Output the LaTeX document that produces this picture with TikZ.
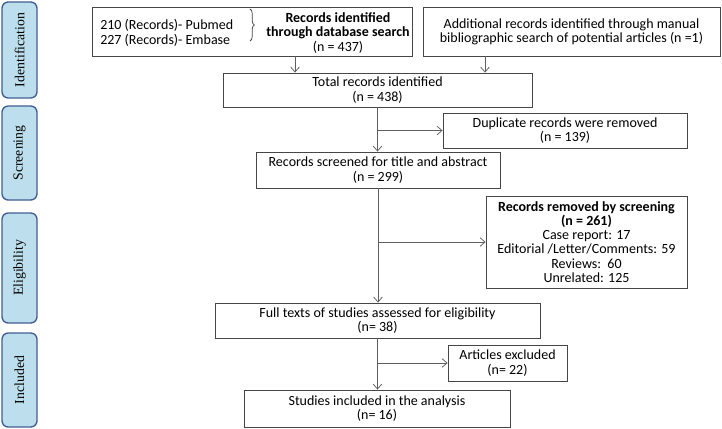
\documentclass[tikz,border=0pt]{standalone}
\usepackage{fontspec}
\setmainfont{Carlito}
\newfontfamily\sidefont{Liberation Serif}
\usetikzlibrary{arrows.meta,decorations.pathreplacing}
\definecolor{sidefill}{RGB}{189,222,236}
\definecolor{sideline}{RGB}{66,96,146}
\definecolor{boxline}{RGB}{70,70,70}
\definecolor{arrline}{RGB}{95,95,95}
\newcommand{\unitpx}{0.8pt}
\tikzset{
  flowbox/.style 2 args={draw=boxline, line width=0.7pt, minimum width=#1*\unitpx,
    minimum height=#2*\unitpx, inner sep=0pt, align=center, font=\fontsize{11.2}{11.4}\selectfont},
  flowtext/.style={inner sep=0pt, font=\fontsize{11.2}{11.8}\selectfont},
  sidebox/.style={draw=sideline, fill=sidefill, line width=1.1pt, rounded corners=5pt,
    rotate=90, minimum width=#1*\unitpx, minimum height=35*\unitpx, inner sep=0pt,
    font=\sidefont\fontsize{11}{13}\selectfont},
  arr/.style={draw=arrline, line width=0.6pt, -{Straight Barb[length=4pt,width=7pt]}}
}

\begin{document}
\begin{tikzpicture}[x=0.8pt, y=-0.8pt]
  \path[use as bounding box, fill=white] (0,0) rectangle (722,428);
  % phases on the left
  \node[sidebox=96] (idphase) at (19.5,50) {Identification};
  \node[sidebox=94] (scrphase) at (19.5,153) {Screening};
  \node[sidebox=110] (eligphase) at (19.5,268) {Eligibility};
  \node[sidebox=94] (incphase) at (19.5,380) {Included};
  % identification
  \node[flowbox={320}{49}] (db) at (252,31.5) {};
  \node[flowtext, anchor=west, align=left] (dbsrc) at (100,32.5) {210 (Records)- Pubmed\\227 (Records)- Embase};
  \node[flowtext, align=center] (dbsum) at (338,33)
    {\textbf{Records identified}\\\textbf{through database search}\\(n = 437)};
  \draw[decorate, decoration={brace,amplitude=3.5pt}, boxline, line width=0.6pt] (250,9) -- (250,41);
  \node[flowbox={297}{49}] (add) at (571.5,31.5)
    {Additional records identified through manual\\bibliographic search of potential articles (n =1)};
  \node[flowbox={309}{34}] (total) at (377.5,90) {Total records identified\\(n = 438)};
  % screening
  \node[flowbox={244}{35}] (dup) at (565,130.5) {Duplicate records were removed\\(n = 139)};
  \node[flowbox={244}{36}] (screen) at (378,170) {Records screened for title and abstract\\(n = 299)};
  % eligibility
  \node[flowbox={201}{92}] (removed) at (586.5,242)
    {\textbf{Records removed by screening}\\\textbf{(n = 261)}\\Case report: 17\\Editorial /Letter/Comments: 59\\Reviews:\ \ 60\\Unrelated: 125};
  \node[flowbox={325}{35}] (full) at (377.5,320.5) {Full texts of studies assessed for eligibility\\(n= 38)};
  % included
  \node[flowbox={119}{36}] (excl) at (507.5,363) {Articles excluded\\(n= 22)};
  \node[flowbox={266}{37}] (incl) at (377,408.5) {Studies included in the analysis\\(n= 16)};
  % connectors
  \coordinate (dbout) at (295,56);
  \coordinate (addout) at (485,56);
  \draw[arr] (dbout) -- (dbout |- total.north);
  \draw[arr] (addout) -- (addout |- total.north);
  \draw[arr] (total.south) -- (total.south |- screen.north);
  \draw[arr] (total.south |- dup.west) -- (dup.west);
  \draw[arr] (screen.south) -- (screen.south |- full.north);
  \draw[arr] (screen.south |- removed.west) -- (removed.west);
  \draw[arr] (full.south) -- (full.south |- incl.north);
  \draw[arr] (full.south |- excl.west) -- (excl.west);
\end{tikzpicture}
\end{document}
